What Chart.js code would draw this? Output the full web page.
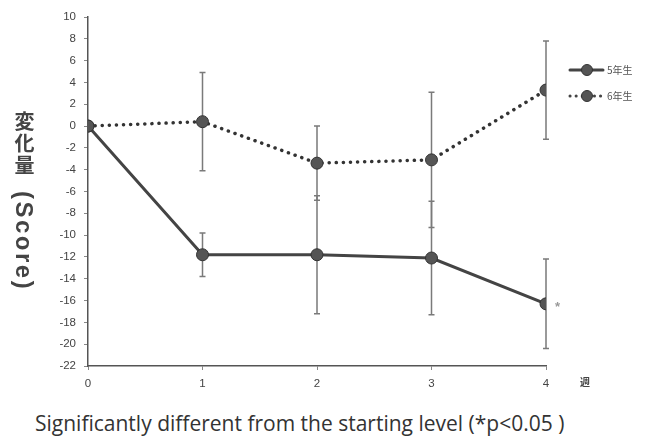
<!DOCTYPE html>
<html>
<head>
<meta charset="utf-8">
<script src="https://cdn.jsdelivr.net/npm/chart.js@4"></script>
<style>
  body { margin: 0; background: #fff; }
  #wrap { position: relative; width: 648px; height: 436px; overflow: hidden; }
  #box { position: absolute; left: 0; top: 0; width: 648px; height: 396px; }
  #ytitle {
    position: absolute; left: 10px; top: 111px;
    writing-mode: vertical-rl;
    color: #444; line-height: 24px;
  }
  #ytitle .jp { font: bold 20px "Noto Sans CJK JP", sans-serif; letter-spacing: 2px; }
  #ytitle .en { font: bold 24px "Liberation Sans", sans-serif; letter-spacing: 2.5px; margin-top: 14px; display: inline-block; }
  #caption {
    position: absolute; left: 35px; top: 413px;
    font: 21px "Open Sans", sans-serif; line-height: 21px; color: #333; white-space: nowrap;
  }
</style>
</head>
<body>
<div id="wrap">
  <div id="box"><canvas id="chart"></canvas></div>
  <div id="ytitle"><span class="jp">変化量</span><span class="en">(Score)</span></div>
  <div id="caption">Significantly different from the starting level (*p&lt;0.05 )</div>
</div>
<script>
const weeks = [0, 1, 2, 3, 4];
const grade5 = [0, -11.8, -11.8, -12.1, -16.3];
const grade5Err = [0, 2.0, 5.4, 5.2, 4.1];
const grade6 = [0, 0.4, -3.4, -3.1, 3.3];
const grade6Err = [0, 4.5, 3.4, 6.2, 4.5];
const seriesNames = ['5年生', '6年生'];
const xUnit = '週';

// error bars, asterisk, legend and the 週 label
const extras = {
  id: 'extras',
  beforeDatasetsDraw(chart) {
    const ctx = chart.ctx, x = chart.scales.x, y = chart.scales.y;
    ctx.save();
    ctx.strokeStyle = '#7a7a7a';
    ctx.lineWidth = 1.5;
    [[grade6, grade6Err], [grade5, grade5Err]].forEach(([vals, errs]) => {
      vals.forEach((v, i) => {
        if (!errs[i]) return;
        const px = x.getPixelForValue(weeks[i]);
        const top = y.getPixelForValue(v + errs[i]);
        const bot = y.getPixelForValue(v - errs[i]);
        ctx.beginPath();
        ctx.moveTo(px, top); ctx.lineTo(px, bot);
        ctx.moveTo(px - 3, top); ctx.lineTo(px + 3, top);
        ctx.moveTo(px - 3, bot); ctx.lineTo(px + 3, bot);
        ctx.stroke();
      });
    });
    ctx.restore();
  },
  afterDraw(chart) {
    const ctx = chart.ctx, x = chart.scales.x, y = chart.scales.y;
    ctx.save();
    // asterisk on last 5年生 point
    ctx.fillStyle = '#999';
    ctx.font = 'bold 13px "Liberation Sans"';
    ctx.textAlign = 'left';
    ctx.textBaseline = 'middle';
    ctx.fillText('*', x.getPixelForValue(4) + 9, y.getPixelForValue(grade5[4]) + 4);

    // 週
    ctx.fillStyle = '#444';
    ctx.font = 'bold 10px "Noto Sans CJK JP"';
    ctx.fillText(xUnit, 580, 382);

    // legend
    const items = [
      { name: seriesNames[0], yy: 70, dash: [] },
      { name: seriesNames[1], yy: 96, dash: [0.1, 6] }
    ];
    items.forEach(it => {
      ctx.strokeStyle = '#444';
      ctx.lineWidth = 3;
      ctx.lineCap = 'round';
      ctx.setLineDash(it.dash);
      ctx.beginPath();
      ctx.moveTo(570, it.yy); ctx.lineTo(603, it.yy);
      ctx.stroke();
      ctx.setLineDash([]);
      ctx.fillStyle = '#555';
      ctx.strokeStyle = '#333';
      ctx.lineWidth = 1;
      ctx.beginPath();
      ctx.arc(587, it.yy, 5.5, 0, Math.PI * 2);
      ctx.fill(); ctx.stroke();
      ctx.fillStyle = '#555';
      ctx.font = '10px "Noto Sans CJK JP"';
      ctx.fillText(it.name, 607, it.yy);
    });
    ctx.restore();
  }
};

new Chart(document.getElementById('chart').getContext('2d'), {
  type: 'line',
  data: {
    datasets: [
      {
        label: seriesNames[1],
        data: weeks.map((w, i) => ({ x: w, y: grade6[i] })),
        borderColor: '#333',
        borderWidth: 3.5,
        borderDash: [0.1, 7],
        borderCapStyle: 'round',
        pointRadius: 6,
        pointBackgroundColor: '#555',
        pointBorderColor: '#333',
        pointBorderWidth: 1,
        fill: false
      },
      {
        label: seriesNames[0],
        data: weeks.map((w, i) => ({ x: w, y: grade5[i] })),
        borderColor: '#444',
        borderWidth: 3,
        pointRadius: 6,
        pointBackgroundColor: '#555',
        pointBorderColor: '#333',
        pointBorderWidth: 1,
        fill: false
      }
    ]
  },
  options: {
    responsive: true,
    maintainAspectRatio: false,
    animation: false,
    layout: { padding: { left: 0, right: 102, top: 17, bottom: 0 } },
    plugins: { legend: { display: false }, tooltip: { enabled: false } },
    scales: {
      x: {
        type: 'linear', min: 0, max: 4,
        ticks: { stepSize: 1, color: '#444', font: { family: 'Liberation Sans', size: 11.5 }, padding: 7 },
        grid: { drawOnChartArea: false, tickLength: 4, color: '#888' },
        border: { color: '#555', width: 1.5 },
        afterFit(s) { s.height = 30; }
      },
      y: {
        min: -22, max: 10,
        ticks: { stepSize: 2, color: '#444', font: { family: 'Liberation Sans', size: 11.5 }, padding: 8 },
        grid: { drawOnChartArea: false, tickLength: 4, color: '#888' },
        border: { color: '#555', width: 1.5 },
        afterFit(s) { s.width = 88; }
      }
    }
  },
  plugins: [extras]
});
</script>
</body>
</html>
